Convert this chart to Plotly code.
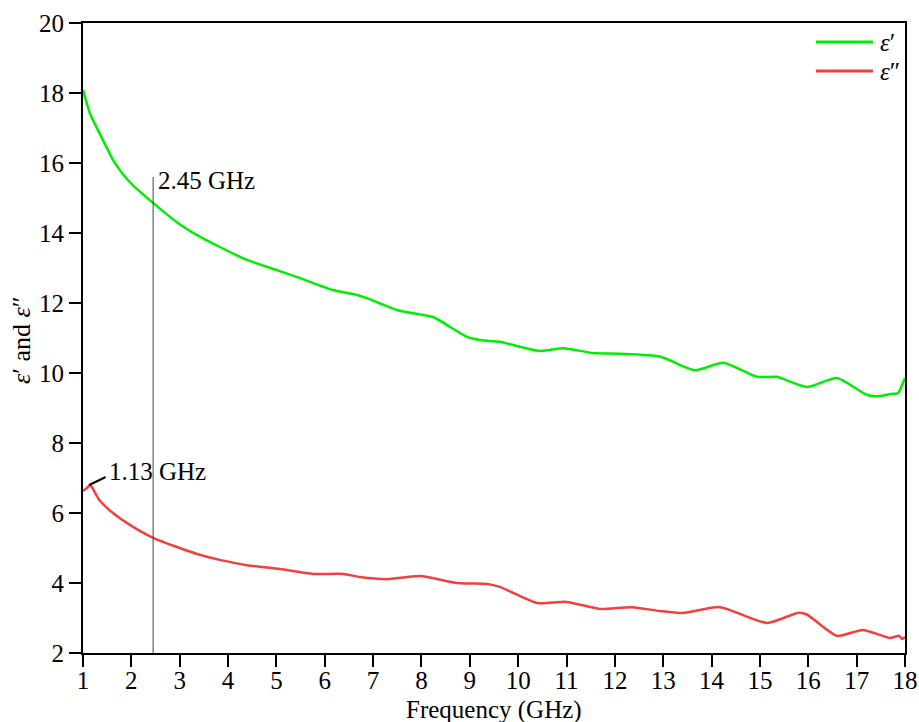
import plotly.graph_objects as go

# epsilon' (real part)
freq_re = [1.0, 1.14, 1.41, 1.62, 1.81, 2.03, 2.45, 2.94, 3.36, 3.83, 4.39, 5.01, 5.49, 6.17, 6.67,
           6.87, 7.49, 7.83, 8.24, 8.94, 9.21, 9.62, 10.45, 10.93, 11.55, 12.11, 12.93, 13.66, 14.24,
           14.94, 15.35, 15.97, 16.59, 17.22, 17.48, 17.7, 17.86, 17.94, 18.0]
eps_re = [18.09, 17.43, 16.66, 16.09, 15.71, 15.37, 14.86, 14.31, 13.94, 13.6, 13.23, 12.94, 12.71,
          12.37, 12.23, 12.14, 11.8, 11.71, 11.6, 11.03, 10.94, 10.89, 10.63, 10.71, 10.57, 10.55,
          10.47, 10.08, 10.29, 9.89, 9.89, 9.6, 9.86, 9.37, 9.34, 9.40, 9.43, 9.66, 9.86]

# epsilon'' (imaginary part)
freq_im = [1.0, 1.08, 1.14, 1.19, 1.26, 1.35, 1.62, 1.97, 2.45, 3.0, 3.36, 3.83, 4.39, 5.07, 5.76,
           6.38, 6.73, 7.29, 7.97, 8.74, 9.36, 9.62, 10.39, 11.0, 11.69, 12.35, 12.93, 13.41, 14.17,
           15.15, 15.8, 15.97, 16.59, 17.13, 17.69, 17.88, 17.94, 18.0]
eps_im = [6.63, 6.71, 6.8, 6.73, 6.55, 6.35, 6.0, 5.66, 5.29, 5.0, 4.83, 4.66, 4.51, 4.4, 4.26,
          4.26, 4.17, 4.11, 4.2, 4.0, 3.97, 3.89, 3.43, 3.46, 3.26, 3.31, 3.2, 3.14, 3.31,
          2.86, 3.15, 3.1, 2.49, 2.66, 2.43, 2.49, 2.40, 2.46]

x_ticks = list(range(1, 19))
y_ticks = [2, 4, 6, 8, 10, 12, 14, 16, 18, 20]

series_names = ["<i>ε</i>′", "<i>ε</i>″"]
series_colors = ["#00ee00", "#f04040"]

marker_freq = 2.45
marker_top = 15.6
peak_freq = 1.13
peak_val = 6.8

FONT = "Liberation Serif"

fig = go.Figure()
fig.add_trace(go.Scatter(x=freq_re, y=eps_re, mode="lines", name=series_names[0],
                         line=dict(color=series_colors[0], width=2.5, shape="spline", smoothing=0.6)))
fig.add_trace(go.Scatter(x=freq_im, y=eps_im, mode="lines", name=series_names[1],
                         line=dict(color=series_colors[1], width=2.5, shape="spline", smoothing=0.6)))

# 2.45 GHz vertical marker
fig.add_trace(go.Scatter(x=[marker_freq, marker_freq], y=[2, marker_top], mode="lines",
                         line=dict(color="#444444", width=1), showlegend=False, hoverinfo="skip"))
fig.add_annotation(x=marker_freq, y=marker_top, text="2.45 GHz", showarrow=False,
                   xanchor="left", yanchor="middle", xshift=3, yshift=-3,
                   font=dict(family=FONT, size=25, color="black"))

# 1.13 GHz peak label
fig.add_annotation(x=peak_freq, y=peak_val, ax=1.5, ay=7.05, axref="x", ayref="y",
                   text="", showarrow=True, arrowhead=0, arrowwidth=2, arrowcolor="black")
fig.add_annotation(x=1.5, y=7.2, text="1.13 GHz", showarrow=False, xanchor="left",
                   yanchor="middle", font=dict(family=FONT, size=25, color="black"))

# manual legend (long line samples like the reference)
legend_y = [0.9698, 0.9238]
for name, color, ly in zip(series_names, series_colors, legend_y):
    fig.add_shape(type="line", xref="paper", yref="paper", x0=0.8917, x1=0.9611, y0=ly, y1=ly,
                  line=dict(color=color, width=3))
    fig.add_annotation(xref="paper", yref="paper", x=0.9672, y=ly, text=name, showarrow=False,
                       xanchor="left", yanchor="middle", font=dict(family=FONT, size=25, color="black"))

# axis titles
fig.add_annotation(xref="paper", yref="paper", x=0.5, y=-0.0905, text="Frequency (GHz)",
                   showarrow=False, xanchor="center", yanchor="middle",
                   font=dict(family=FONT, size=25, color="black"))
fig.add_annotation(xref="paper", yref="paper", x=-0.0742, y=0.497,
                   text="<i>ε</i>′ and <i>ε</i>″", textangle=-90,
                   showarrow=False, xanchor="center", yanchor="middle",
                   font=dict(family=FONT, size=26, color="black"))

fig.update_layout(
    width=919, height=722,
    margin=dict(l=83, r=14, t=23, b=69, autoexpand=False),
    plot_bgcolor="white", paper_bgcolor="white",
    font=dict(family=FONT, size=24, color="black"),
    showlegend=False,
)
fig.update_xaxes(range=[1, 18], tickvals=x_ticks, ticktext=[str(v) for v in x_ticks],
                 showgrid=False, zeroline=False, showline=True, linecolor="black", linewidth=2,
                 mirror=True, ticks="outside", ticklen=12, tickwidth=2, tickcolor="black",
                 automargin=False, ticklabelstandoff=-8,
                 tickfont=dict(family=FONT, size=25))
fig.update_yaxes(range=[2, 20], tickvals=y_ticks, ticktext=[str(v) for v in y_ticks],
                 showgrid=False, zeroline=False, showline=True, linecolor="black", linewidth=2,
                 mirror=True, ticks="outside", ticklen=12, tickwidth=2, tickcolor="black",
                 automargin=False,
                 tickfont=dict(family=FONT, size=25))

fig.write_html("out.html")
